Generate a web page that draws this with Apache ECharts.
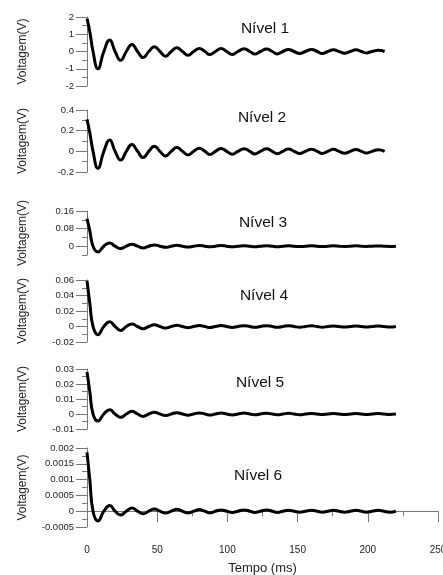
<!DOCTYPE html>
<html>
<head>
<meta charset="utf-8">
<script src="https://cdn.jsdelivr.net/npm/echarts@6/dist/echarts.min.js"></script>
<style>
  html, body { margin: 0; padding: 0; background: #fff; }
  #chart { width: 443px; height: 575px; }
</style>
</head>
<body>
<div id="chart"></div>
<script>
// tempo (ms): start, zero crossings and peaks/troughs
const tempoA = [
  0, 2, 4.3, 7.8,
  12, 16.2, 20, 24,
  28, 32, 36, 40,
  44, 48, 52, 56,
  60, 64, 68, 72,
  76, 80, 84, 87.5,
  91.5, 95.5, 99.5, 103.5,
  107.5, 112, 116, 119.5,
  123.5, 128, 132, 135.5,
  139.5, 143.5, 147.5, 151.5,
  155.5, 160, 164, 167.5,
  171.5, 175.5, 179.5, 183.5,
  187.5, 191.5, 195.5, 199,
  203, 207.5, 212
]
const tempoB = [
  0, 2, 4.3, 7.8,
  12, 16.2, 20, 24,
  28, 32, 36, 40,
  44, 48, 52, 56,
  60, 64, 68, 72,
  76, 80, 84, 87.5,
  91.5, 95.5, 99.5, 103.5,
  107.5, 112, 116, 119.5,
  123.5, 128, 132, 135.5,
  139.5, 143.5, 147.5, 151.5,
  155.5, 160, 164, 167.5,
  171.5, 175.5, 179.5, 183.5,
  187.5, 191.5, 195.5, 199,
  203, 207.5, 211.5, 215.5,
  220
]

const nivel1 = [
  1.9, 1.15, 0, -1.0,
  0, 0.67, 0, -0.51,
  0, 0.41, 0, -0.35,
  0, 0.27, 0, -0.27,
  0, 0.22, 0, -0.22,
  0, 0.18, 0, -0.18,
  0, 0.17, 0, -0.17,
  0, 0.16, 0, -0.15,
  0, 0.14, 0, -0.14,
  0, 0.12, 0, -0.12,
  0, 0.12, 0, -0.12,
  0, 0.1, 0, -0.1,
  0, 0.1, 0, -0.08,
  0, 0.07, 0
]
const nivel2 = [
  0.31, 0.18, 0, -0.165,
  0, 0.11, 0, -0.085,
  0, 0.065, 0, -0.06,
  0, 0.05, 0, -0.045,
  0, 0.036, 0, -0.035,
  0, 0.03, 0, -0.03,
  0, 0.028, 0, -0.028,
  0, 0.026, 0, -0.025,
  0, 0.024, 0, -0.023,
  0, 0.022, 0, -0.021,
  0, 0.02, 0, -0.02,
  0, 0.019, 0, -0.018,
  0, 0.017, 0, -0.016,
  0, 0.015, 0
]
const nivel3 = [
  0.125, 0.07, 0, -0.026,
  0, 0.015, 0, -0.011,
  0, 0.009, 0, -0.008,
  0, 0.006, 0, -0.005,
  0, 0.004, 0, -0.004,
  0, 0.003, 0, -0.003,
  0, 0.003, 0, -0.0025,
  0, 0.0025, 0, -0.002,
  0, 0.002, 0, -0.002,
  0, 0.002, 0, -0.0018,
  0, 0.0018, 0, -0.0016,
  0, 0.0016, 0, -0.0015,
  0, 0.0015, 0, -0.0014,
  0, 0.0013, 0, -0.0012,
  0
]
const nivel4 = [
  0.059, 0.03, 0, -0.0105,
  0, 0.006, 0, -0.005,
  0, 0.0032, 0, -0.003,
  0, 0.0022, 0, -0.002,
  0, 0.0016, 0, -0.0015,
  0, 0.0013, 0, -0.0013,
  0, 0.0012, 0, -0.0012,
  0, 0.0011, 0, -0.0011,
  0, 0.001, 0, -0.001,
  0, 0.001, 0, -0.0009,
  0, 0.0009, 0, -0.0009,
  0, 0.0008, 0, -0.0008,
  0, 0.0008, 0, -0.0007,
  0, 0.0007, 0, -0.0007,
  0
]
const nivel5 = [
  0.028, 0.015, 0, -0.0047,
  0, 0.0029, 0, -0.0022,
  0, 0.0018, 0, -0.0016,
  0, 0.0011, 0, -0.001,
  0, 0.0009, 0, -0.0008,
  0, 0.0007, 0, -0.0007,
  0, 0.0006, 0, -0.0006,
  0, 0.0006, 0, -0.0005,
  0, 0.0005, 0, -0.0005,
  0, 0.0005, 0, -0.0005,
  0, 0.0004, 0, -0.0004,
  0, 0.0004, 0, -0.0004,
  0, 0.0004, 0, -0.0004,
  0, 0.0003, 0, -0.0003,
  0
]
const nivel6 = [
  0.00186, 0.001, 0, -0.00031,
  0, 0.00018, 0, -0.00012,
  0, 0.0001, 0, -0.00008,
  0, 0.00007, 0, -0.00006,
  0, 0.00006, 0, -0.00005,
  0, 0.00005, 0, -0.00005,
  0, 0.00004, 0, -0.00004,
  0, 0.00004, 0, -0.00004,
  0, 0.00004, 0, -0.00004,
  0, 0.00003, 0, -0.00003,
  0, 0.00003, 0, -0.00003,
  0, 0.00003, 0, -0.00003,
  0, 0.00003, 0, -0.00003,
  0, 0.00003, 0, -0.00003,
  0
]

const titulos = ['Nível 1', 'Nível 2', 'Nível 3', 'Nível 4', 'Nível 5', 'Nível 6']
const xTicks = { min: 0, max: 250, interval: 50 }
// y ranges per panel: [min, max, interval]
const yRanges = [
  [-2, 2, 1],
  [-0.2, 0.4, 0.2],
  [-0.04, 0.16, 0.04],
  [-0.02, 0.06, 0.02],
  [-0.01, 0.03, 0.01],
  [-0.0005, 0.002, 0.0005]
]
const nivel3Labels = [0, 0.08, 0.16]

const FONT = '"Liberation Sans", Arial, sans-serif'
const AXIS = '#777'
const TEXT = '#222'

// layout (px)
const grids = [
  { top: 17, height: 69 },
  { top: 110, height: 62 },
  { top: 211, height: 44 },
  { top: 280, height: 62 },
  { top: 369, height: 60 },
  { top: 448, height: 79 }
]
const titlePos = [[265, 29], [262, 118], [263, 223], [264, 296], [260, 383], [258, 476]]

const chart = echarts.init(document.getElementById('chart'), null, { renderer: 'canvas' })

const series = [nivel1, nivel2, nivel3, nivel4, nivel5, nivel6]
const tempos = [tempoA, tempoA, tempoB, tempoB, tempoB, tempoB]

const yAxisName = {
  name: 'Voltagem(V)',
  nameLocation: 'middle',
  nameRotate: 90,
  nameGap: 58,
  nameTextStyle: { fontFamily: FONT, fontSize: 12, color: TEXT }
}

const yAxes = []
const yIndexOf = []
yRanges.forEach(([min, max, interval], i) => {
  const isN3 = i === 2
  yIndexOf.push(yAxes.length)
  yAxes.push({
    type: 'value',
    gridIndex: i,
    min, max, interval,
    ...yAxisName,
    splitLine: { show: false },
    axisLine: { show: true, lineStyle: { color: AXIS, width: 1 } },
    axisTick: { show: true, length: isN3 ? 5 : 11, lineStyle: { color: AXIS } },
    minorTick: { show: !isN3, splitNumber: 2, length: 5, lineStyle: { color: AXIS } },
    axisLabel: {
      show: !isN3,
      margin: 13,
      fontFamily: FONT, fontSize: 9.5, color: TEXT
    }
  })
  if (isN3) {
    yAxes.push({
      type: 'value',
      gridIndex: i,
      position: 'left',
      min, max,
      splitLine: { show: false },
      axisLine: { show: false },
      axisTick: { show: true, length: 11, customValues: nivel3Labels, lineStyle: { color: AXIS } },
      axisLabel: {
        show: true, margin: 13, customValues: nivel3Labels,
        fontFamily: FONT, fontSize: 9.5, color: TEXT
      }
    })
  }
})

const xAxes = grids.map((g, i) => {
  const last = i === grids.length - 1
  return {
    type: 'value',
    gridIndex: i,
    ...xTicks,
    show: last,
    name: last ? 'Tempo (ms)' : '',
    nameLocation: 'middle',
    nameGap: 35,
    nameTextStyle: { fontFamily: FONT, fontSize: 13, color: TEXT },
    splitLine: { show: false },
    axisLine: { show: true, lineStyle: { color: AXIS, width: 1 } },
    axisTick: { show: true, length: 11, lineStyle: { color: AXIS } },
    minorTick: { show: true, splitNumber: 2, length: 5, lineStyle: { color: AXIS } },
    axisLabel: { margin: 18, fontFamily: FONT, fontSize: 10, color: TEXT, showMaxLabel: true }
  }
})

chart.setOption({
  animation: false,
  backgroundColor: '#fff',
  grid: grids.map(g => ({
    left: 87, width: 351, top: g.top, height: g.height,
    containLabel: false, outerBoundsMode: 'none'
  })),
  xAxis: xAxes,
  yAxis: yAxes,
  series: series.map((vals, i) => ({
    type: 'line',
    xAxisIndex: i,
    yAxisIndex: yIndexOf[i],
    data: tempos[i].map((t, k) => [t, vals[k]]),
    smooth: true,
    showSymbol: false,
    symbol: 'none',
    lineStyle: { color: '#000', width: 3 }
  })),
  graphic: titulos.map((txt, i) => ({
    type: 'text',
    x: titlePos[i][0],
    y: titlePos[i][1],
    style: {
      text: txt,
      font: '15.5px ' + FONT,
      fill: '#111',
      align: 'center',
      verticalAlign: 'middle'
    }
  }))
})
</script>
</body>
</html>
